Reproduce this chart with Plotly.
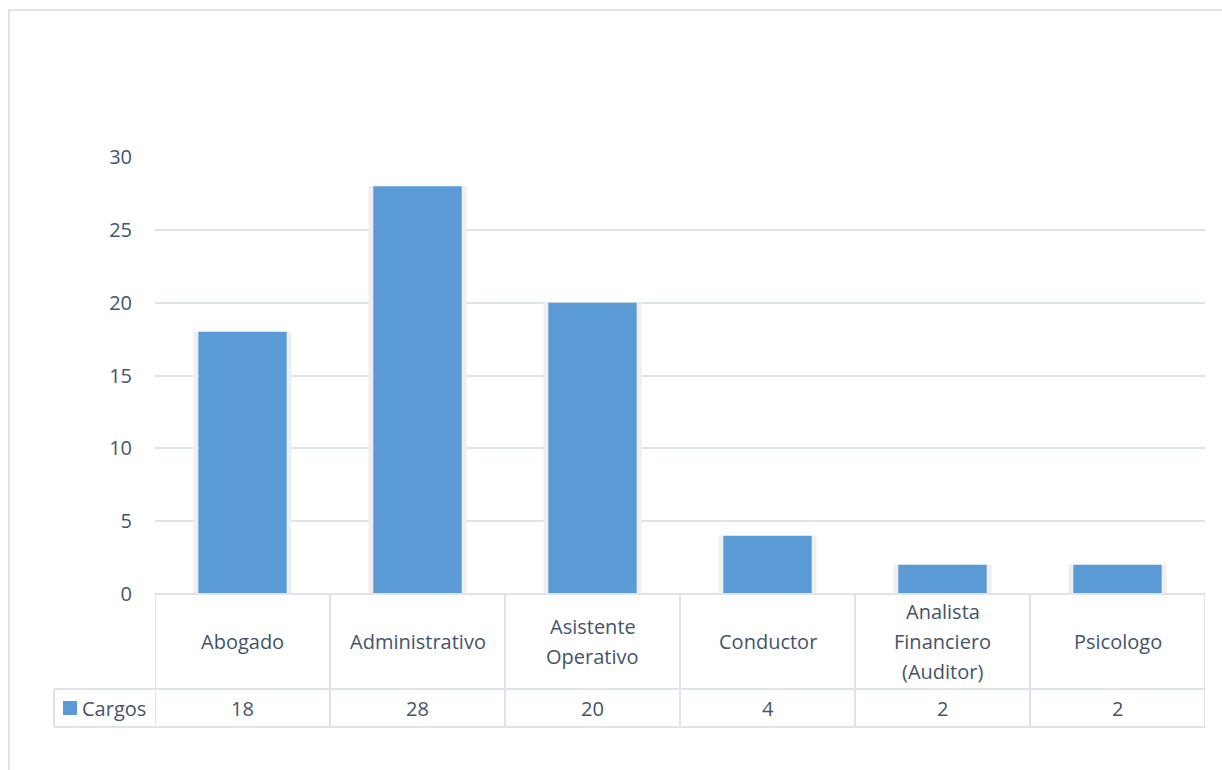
import plotly.graph_objects as go

categories = ["Abogado", "Administrativo", "Asistente<br>Operativo", "Conductor",
              "Analista<br>Financiero<br>(Auditor)", "Psicologo"]
values = [18, 28, 20, 4, 2, 2]
series_name = "Cargos"
y_ticks = [0, 5, 10, 15, 20, 25, 30]

W, H = 1222, 770
L, R, T, B = 155, 17, 157, 176
ph = H - T - B
pw = W - L - R

TEXT = "#44546a"
GRID = "#dfe3ea"
BAR = "#5b9bd5"
FONT = "Open Sans"
FS = 20
LINE_H = 30

xpos = list(range(len(categories)))

fig = go.Figure()
# soft shadow behind bars
fig.add_trace(go.Bar(x=xpos, y=values, width=0.56, marker=dict(color="#efefef", line=dict(width=0)),
                     hoverinfo="skip", showlegend=False))
fig.add_trace(go.Bar(x=xpos, y=values, width=0.505, name=series_name,
                     marker=dict(color=BAR, line=dict(width=0)), showlegend=False))

def py(pix):
    return (T + ph - pix) / ph

def px(pix):
    return (pix - L) / pw

row1 = py(689)
row2 = py(727)

shapes = []
line = dict(color=GRID, width=2)
shapes.append(dict(type="line", xref="x", yref="paper", x0=-0.5, x1=len(categories) - 0.5, y0=0, y1=0, line=line))
shapes.append(dict(type="line", xref="paper", yref="paper", x0=px(54), x1=1, y0=row1, y1=row1, line=line))
shapes.append(dict(type="line", xref="paper", yref="paper", x0=px(54), x1=1, y0=row2, y1=row2, line=line))
for i in range(len(categories) + 1):
    shapes.append(dict(type="line", xref="x", yref="paper", x0=i - 0.5, x1=i - 0.5, y0=0, y1=row2, line=line))
shapes.append(dict(type="line", xref="paper", yref="paper", x0=px(54), x1=px(54), y0=row1, y1=row2, line=line))
# legend key
shapes.append(dict(type="rect", xref="paper", yref="paper", x0=px(63), x1=px(77), y0=py(715), y1=py(701),
                   fillcolor=BAR, line=dict(width=0)))
# outer chart border
shapes.append(dict(type="rect", xref="paper", yref="paper", x0=px(9), x1=px(1240),
                   y0=py(790), y1=py(10), line=dict(color=GRID, width=2),
                   fillcolor="rgba(0,0,0,0)", layer="below"))

annotations = []
font = dict(family=FONT, size=FS, color=TEXT)
for i, c in enumerate(categories):
    parts = c.split("<br>")
    n = len(parts)
    for k, part in enumerate(parts):
        cy = 641 + (k - (n - 1) / 2) * LINE_H
        annotations.append(dict(x=i, y=py(cy), xref="x", yref="paper", text=part, showarrow=False,
                                font=font, yanchor="middle"))
    annotations.append(dict(x=i, y=py(708), xref="x", yref="paper", text=str(values[i]), showarrow=False,
                            font=font, yanchor="middle"))
annotations.append(dict(x=px(80), y=py(708), xref="paper", yref="paper", text=series_name,
                        showarrow=False, xanchor="left", yanchor="middle", font=font))

fig.update_layout(
    width=W, height=H,
    margin=dict(l=L, r=R, t=T, b=B),
    paper_bgcolor="white", plot_bgcolor="white",
    barmode="overlay",
    showlegend=False,
    xaxis=dict(range=[-0.5, len(categories) - 0.5], showticklabels=False, showgrid=False,
               zeroline=False, showline=False, fixedrange=True),
    yaxis=dict(range=[0, 30], tickvals=y_ticks, showgrid=True, gridcolor=GRID, gridwidth=2,
               zeroline=False, showline=False, ticklabelstandoff=22,
               tickfont=font),
    shapes=shapes,
    annotations=annotations,
)

fig.write_html("out.html")
